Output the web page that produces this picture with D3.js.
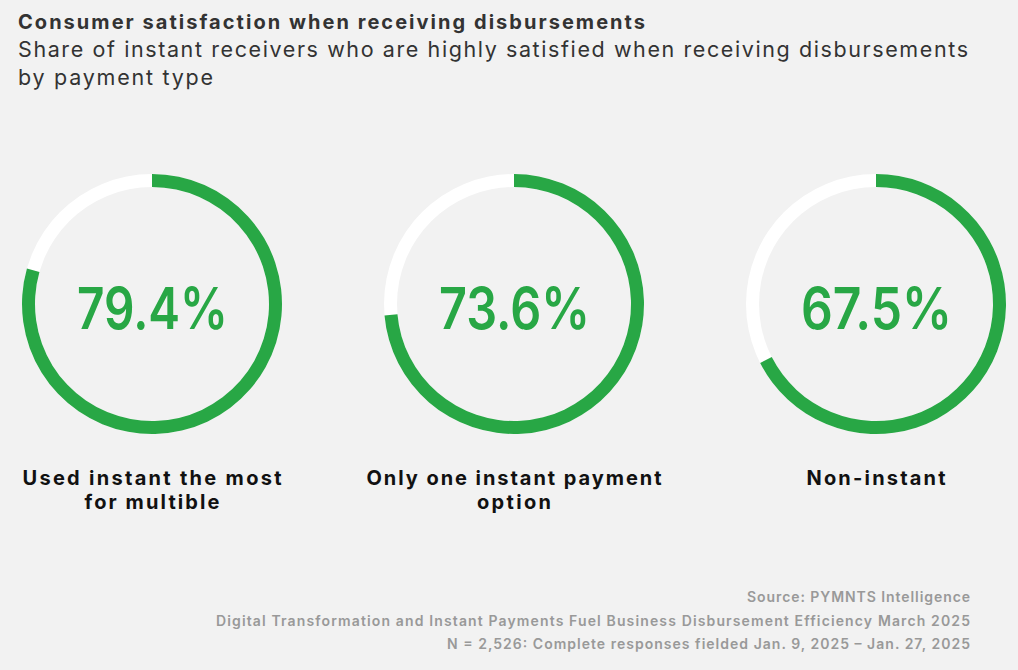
<!DOCTYPE html>
<html><head><meta charset="utf-8">
<script src="https://cdn.jsdelivr.net/npm/d3@7"></script>
<style>body{margin:0;background:#f2f2f2;font-family:Inter,Roboto,sans-serif}</style>
</head><body>
<svg id="c" width="1018" height="670"></svg>
<script>
const categories = [["Used instant the most","for multible"],["Only one instant payment","option"],["Non-instant"]];
const values = [79.4, 73.6, 67.5];
const sources = ["Source: PYMNTS Intelligence","Digital Transformation and Instant Payments Fuel Business Disbursement Efficiency March 2025","N = 2,526: Complete responses fielded Jan. 9, 2025 – Jan. 27, 2025"];
const labelWidths = [[259,135],[295,74],[139]];
const sourceWidths = [223,754,523];

const svg = d3.select("#c");
svg.append("rect").attr("width",1018).attr("height",670).attr("fill","#f2f2f2");
svg.append("text").attr("x",18).attr("y",29).attr("font-size",20).attr("font-weight",700).attr("fill","#333")
  .attr("textLength",627).attr("lengthAdjust","spacing").text("Consumer satisfaction when receiving disbursements");
svg.append("text").attr("x",18).attr("y",57).attr("font-size",21.5).attr("fill","#333")
  .attr("textLength",950).attr("lengthAdjust","spacing").text("Share of instant receivers who are highly satisfied when receiving disbursements");
svg.append("text").attr("x",18).attr("y",85).attr("font-size",21.5).attr("fill","#333")
  .attr("textLength",195).attr("lengthAdjust","spacing").text("by payment type");

const x = d3.scalePoint().domain(d3.range(values.length)).range([152,876]);
const ang = d3.scaleLinear().domain([0,100]).range([0,2*Math.PI]);
const arc = d3.arc().innerRadius(117).outerRadius(130);
const cy = 304;
values.forEach((v,i)=>{
  const g = svg.append("g").attr("transform",`translate(${x(i)},${cy})`);
  g.append("path").attr("d",arc({startAngle:0,endAngle:2*Math.PI})).attr("fill","#ffffff");
  g.append("path").attr("d",arc({startAngle:0,endAngle:ang(v)})).attr("fill","#28a745");
  g.append("text").attr("x",-75).attr("y",25).attr("font-size",58).attr("font-weight",600)
    .attr("textLength",151).attr("lengthAdjust","spacingAndGlyphs").attr("fill","#28a745").text(v.toFixed(1)+"%");
  categories[i].forEach((l,j)=>{
    const w = labelWidths[i][j];
    svg.append("text").attr("x",x(i)-w/2).attr("y",485+j*24)
      .attr("textLength",w).attr("lengthAdjust","spacing")
      .attr("font-size",20).attr("font-weight",700).attr("fill","#111").text(l);
  });
});
sources.forEach((s,j)=>{
  svg.append("text").attr("x",970-sourceWidths[j]).attr("y",602+j*23.5)
    .attr("textLength",sourceWidths[j]).attr("lengthAdjust","spacing")
    .attr("font-size",14).attr("font-weight",600).attr("fill","#999").text(s);
});
</script></body></html>
